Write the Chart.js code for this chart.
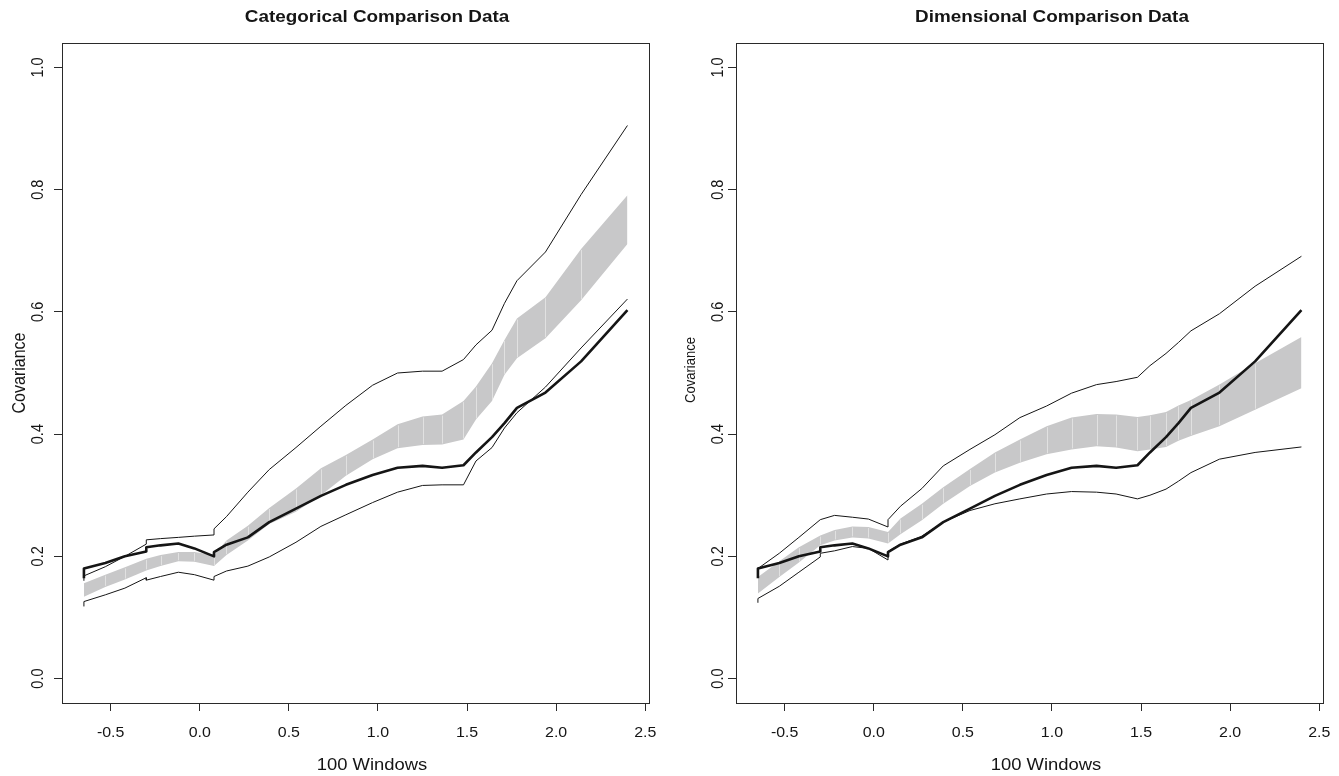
<!DOCTYPE html>
<html><head><meta charset="utf-8">
<script src="https://cdn.jsdelivr.net/npm/chart.js@4.4.1/dist/chart.umd.min.js"></script>
<style>
html,body{margin:0;padding:0;background:#fff;}
#wrap{position:relative;width:1339px;height:776px;overflow:hidden;}
.panel{position:absolute;top:0;height:776px;}
canvas{display:block;}
</style></head><body>
<div id="wrap">
<div class="panel" style="left:0;width:669px"><canvas id="c1" width="669" height="776"></canvas></div>
<div class="panel" style="left:669px;width:670px"><canvas id="c2" width="670" height="776"></canvas></div>
</div>
<script>
// ---------- DATA ----------
const xValues = [-0.65,-0.65,-0.53,-0.42,-0.30,-0.30,-0.22,-0.12,-0.03,0.08,0.08,0.15,0.27,0.39,0.54,0.68,0.82,0.97,1.11,1.25,1.36,1.48,1.55,1.64,1.71,1.78,1.94,2.14,2.40];

const meanLine = [0.164,0.180,0.189,0.200,0.208,0.215,0.218,0.221,0.213,0.200,0.207,0.219,0.231,0.256,0.278,0.299,0.317,0.333,0.345,0.348,0.345,0.349,0.370,0.395,0.418,0.443,0.468,0.519,0.603];

const catUpper    = [0.160,0.168,0.183,0.200,0.220,0.227,0.229,0.231,0.233,0.235,0.245,0.265,0.305,0.342,0.378,0.413,0.447,0.480,0.500,0.503,0.503,0.522,0.546,0.570,0.614,0.651,0.698,0.792,0.905];
const catBandHigh = [0.156,0.156,0.170,0.182,0.196,0.196,0.202,0.207,0.207,0.202,0.202,0.226,0.250,0.279,0.311,0.344,0.366,0.391,0.416,0.429,0.432,0.454,0.478,0.516,0.554,0.589,0.624,0.703,0.791];
const catBandLow  = [0.134,0.134,0.150,0.162,0.177,0.177,0.184,0.192,0.191,0.184,0.184,0.202,0.226,0.253,0.273,0.300,0.332,0.359,0.377,0.382,0.383,0.391,0.424,0.454,0.497,0.524,0.557,0.619,0.711];
const catLower    = [0.118,0.126,0.137,0.148,0.165,0.161,0.167,0.174,0.170,0.161,0.167,0.176,0.184,0.199,0.223,0.249,0.268,0.288,0.305,0.316,0.317,0.317,0.356,0.378,0.410,0.435,0.477,0.541,0.621];

const dimUpper    = [0.176,0.180,0.205,0.231,0.260,0.260,0.267,0.264,0.261,0.248,0.260,0.282,0.311,0.348,0.375,0.399,0.427,0.446,0.467,0.481,0.486,0.493,0.512,0.532,0.550,0.569,0.597,0.642,0.691];
const dimBandHigh = [0.166,0.166,0.192,0.215,0.234,0.234,0.243,0.249,0.248,0.240,0.240,0.262,0.286,0.313,0.343,0.370,0.391,0.413,0.427,0.433,0.432,0.428,0.431,0.436,0.447,0.456,0.481,0.516,0.559];
const dimBandLow  = [0.139,0.139,0.166,0.190,0.218,0.218,0.226,0.231,0.229,0.221,0.221,0.236,0.259,0.286,0.315,0.337,0.353,0.367,0.375,0.380,0.378,0.372,0.375,0.379,0.389,0.397,0.413,0.440,0.475];
const dimLower    = [0.124,0.131,0.151,0.174,0.199,0.205,0.209,0.216,0.213,0.194,0.208,0.220,0.233,0.256,0.275,0.286,0.294,0.302,0.306,0.305,0.302,0.294,0.300,0.310,0.323,0.337,0.359,0.370,0.379];

const xTicks = [-0.5,0.0,0.5,1.0,1.5,2.0,2.5];
const yTicks = [0.0,0.2,0.4,0.6,0.8,1.0];
const panelTitles = ['Categorical Comparison Data','Dimensional Comparison Data'];
const xAxisLabel = '100 Windows';
const yAxisLabel = 'Covariance';

// ---------- HELPERS ----------
const FONT = '"Liberation Sans", Arial, Helvetica, sans-serif';
const INK = '#151515';
function pts(ys){ return xValues.map((x,i)=>({x:x, y:ys[i]})); }

function textAt(ctx, t, x, y, sx, rotate, align){
  ctx.save();
  ctx.translate(x, y);
  ctx.scale(sx, 1);
  if (rotate) ctx.rotate(-Math.PI/2);
  ctx.textAlign = align || 'center';
  ctx.textBaseline = 'alphabetic';
  ctx.fillText(t, 0, 0);
  ctx.restore();
}

function decorPlugin(p){
  return {
    id: 'decor'+p.id,
    afterDatasetDraw(chart, args){
      if (args.index !== 1) return; // after band fill
      const {ctx, scales:{x, y}} = chart;
      const hi = chart.data.datasets[1].data, lo = chart.data.datasets[0].data;
      ctx.save();
      ctx.strokeStyle = 'rgba(235,235,235,0.7)';
      ctx.lineWidth = 1;
      for (let i = 1; i < hi.length - 1; i++){
        if (hi[i].x === hi[i-1].x) continue;
        const px = Math.round(x.getPixelForValue(hi[i].x)) + 0.5;
        ctx.beginPath();
        ctx.moveTo(px, y.getPixelForValue(hi[i].y) + 1);
        ctx.lineTo(px, y.getPixelForValue(lo[i].y) - 1);
        ctx.stroke();
      }
      ctx.restore();
    },
    afterDraw(chart){
      const {ctx, chartArea:a, scales:{x, y}} = chart;
      ctx.save();
      ctx.strokeStyle = '#2a2a2a';
      ctx.lineWidth = 1;
      ctx.strokeRect(Math.round(a.left)+0.5, Math.round(a.top)+0.5, Math.round(a.right-a.left), Math.round(a.bottom-a.top));
      ctx.fillStyle = INK;
      // x tick labels
      ctx.font = '14.5px ' + FONT;
      xTicks.forEach(v => textAt(ctx, v.toFixed(1), x.getPixelForValue(v), p.xTickBase, 1.1, false));
      // y tick labels (rotated)
      yTicks.forEach(v => textAt(ctx, v.toFixed(1), a.left - p.yTickGap, y.getPixelForValue(v), 1.1, true));
      // title
      ctx.font = 'bold 16px ' + FONT;
      textAt(ctx, p.title, p.titleX, p.titleY, 1.18, false);
      // x axis label
      ctx.font = '16px ' + FONT;
      textAt(ctx, xAxisLabel, p.xlabX, p.xlabY, 1.15, false);
      // y axis label
      ctx.font = p.ylabSize + 'px ' + FONT;
      textAt(ctx, yAxisLabel, p.ylabX, p.ylabY, 1.12, true);
      ctx.restore();
    }
  };
}

function makeChart(canvasId, p, upper, bandHigh, bandLow, lower){
  const thin = {borderColor: INK, borderWidth: 1, pointRadius: 0, tension: 0, fill: false, order: 1};
  return new Chart(document.getElementById(canvasId), {
    type: 'line',
    data: {
      datasets: [
        {label:'bandLow', data: pts(bandLow), borderWidth: 0, borderColor:'rgba(0,0,0,0)', pointRadius: 0, fill: false, order: 3},
        {label:'bandHigh', data: pts(bandHigh), borderWidth: 0, borderColor:'rgba(0,0,0,0)', pointRadius: 0, fill: '-1', backgroundColor: '#c8c8c9', order: 2},
        Object.assign({label:'upper', data: pts(upper)}, thin),
        Object.assign({label:'lower', data: pts(lower)}, thin),
        {label:'mean', data: pts(meanLine), borderColor: INK, borderWidth: 2.6, pointRadius: 0, tension: 0, fill: false, order: 0, borderJoinStyle: 'round'}
      ]
    },
    options: {
      responsive: false,
      animation: false,
      events: [],
      layout: {padding: {left: 0, top: p.top, right: p.padRight, bottom: 0}},
      plugins: {legend: {display: false}, title: {display: false}, tooltip: {enabled: false}},
      scales: {
        x: {
          type: 'linear', min: -0.773, max: 2.521,
          afterBuildTicks: s => { s.ticks = xTicks.map(v => ({value: v})); },
          afterFit: s => { s.height = p.bottomH; },
          grid: {display: true, drawOnChartArea: false, drawTicks: true, tickLength: 8, color: '#2a2a2a', lineWidth: 1},
          border: {display: false},
          ticks: {display: false}
        },
        y: {
          type: 'linear', min: -0.04, max: 1.04,
          afterBuildTicks: s => { s.ticks = yTicks.map(v => ({value: v})); },
          afterFit: s => { s.width = p.leftW; },
          grid: {display: true, drawOnChartArea: false, drawTicks: true, tickLength: 8, color: '#2a2a2a', lineWidth: 1},
          border: {display: false},
          ticks: {display: false}
        }
      }
    },
    plugins: [decorPlugin(p)]
  });
}

makeChart('c1', {
  id: 1, title: panelTitles[0], top: 43, padRight: 20, bottomH: 73, leftW: 62,
  titleX: 377, titleY: 21.5, xlabX: 372, xlabY: 770, xTickBase: 737,
  yTickGap: 18.7, ylabX: 25, ylabY: 373, ylabSize: 16
}, catUpper, catBandHigh, catBandLow, catLower);

makeChart('c2', {
  id: 2, title: panelTitles[1], top: 43, padRight: 16, bottomH: 73, leftW: 67,
  titleX: 383, titleY: 21.5, xlabX: 377, xlabY: 770, xTickBase: 737,
  yTickGap: 12.7, ylabX: 26, ylabY: 370, ylabSize: 13
}, dimUpper, dimBandHigh, dimBandLow, dimLower);
</script>
</body></html>
